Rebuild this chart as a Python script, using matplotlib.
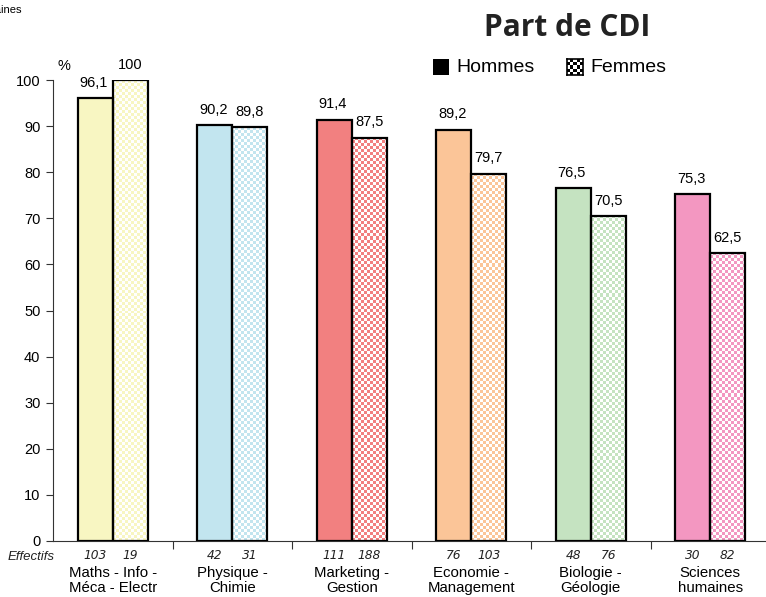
import numpy as np
import matplotlib
matplotlib.use("Agg")
import matplotlib.pyplot as plt
from matplotlib.colors import to_rgba

plt.rcParams["font.family"] = ["Liberation Sans", "DejaVu Sans"]

CATEGORIES = ["Maths - Info -\nMéca - Electr", "Physique -\nChimie", "Marketing -\nGestion",
              "Economie -\nManagement", "Biologie -\nGéologie", "Sciences\nhumaines"]
HOMMES = [96.1, 90.2, 91.4, 89.2, 76.5, 75.3]
FEMMES = [100, 89.8, 87.5, 79.7, 70.5, 62.5]
EFF_HOMMES = [103, 42, 111, 76, 48, 30]
EFF_FEMMES = [19, 31, 188, 103, 76, 82]
COLORS = ["#F8F6C2", "#C2E5EF", "#F28080", "#FBC598", "#C5E3C1", "#F397C1"]
YTICKS = list(range(0, 101, 10))

W, H, DPI = 766, 597, 100
fig = plt.figure(figsize=(W / DPI, H / DPI), dpi=DPI)
ax = fig.add_axes([53 / W, 56 / H, 717 / W, 461 / H])

x = np.arange(len(CATEGORIES))
bw = 0.293


def fmt(v):
    s = f"{v:.1f}".replace(".", ",")
    return s[:-2] if s.endswith(",0") else s


ax.bar(x - bw / 2, HOMMES, bw, color=COLORS, edgecolor="black", linewidth=1.6, zorder=3)
ax.bar(x + bw / 2, FEMMES, bw, color="white", edgecolor="none", zorder=2)
ax.set_xlim(-0.5, 5.5)
ax.set_ylim(0, 100)

# checkerboard fill for the Femmes bars
cell = 3.0
for i, v in enumerate(FEMMES):
    x0, x1 = x[i], x[i] + bw
    p0 = ax.transData.transform((x0, 0))
    p1 = ax.transData.transform((x1, v))
    nx = max(1, int(round((p1[0] - p0[0]) / cell)))
    ny = max(1, int(round((p1[1] - p0[1]) / cell)))
    yy, xx = np.mgrid[0:ny, 0:nx]
    mask = (xx + yy) % 2 == 0
    img = np.ones((ny, nx, 4))
    img[mask] = to_rgba(COLORS[i])
    ax.imshow(img, extent=(x0, x1, 0, v), aspect="auto", interpolation="nearest",
              origin="lower", zorder=2.5)
ax.bar(x + bw / 2, FEMMES, bw, fill=False, edgecolor="black", linewidth=1.6, zorder=3)
ax.set_xlim(-0.5, 5.5)
ax.set_ylim(0, 100)

cnt_font = dict(fontsize=8.8, style="italic", color="#222222",
                family=["DejaVu Sans"])
for i in range(len(CATEGORIES)):
    ax.annotate(fmt(HOMMES[i]), (x[i] - bw / 2, HOMMES[i]), xytext=(-1, 6),
                textcoords="offset points", ha="center", va="bottom", fontsize=10.5,
                annotation_clip=False)
    ax.annotate(fmt(FEMMES[i]), (x[i] + bw / 2, FEMMES[i]), xytext=(0, 6),
                textcoords="offset points", ha="center", va="bottom", fontsize=10.5,
                annotation_clip=False)
    ax.text(x[i] - bw / 2, -3.2, str(EFF_HOMMES[i]), ha="center", va="center", **cnt_font)
    ax.text(x[i] + bw / 2, -3.2, str(EFF_FEMMES[i]), ha="center", va="center", **cnt_font)
    ax.text(x[i], -5.4, CATEGORIES[i], ha="center", va="top", fontsize=10.8,
            linespacing=1.08)

fig.text(8 / W, 1 - 557 / H, "Effectifs", ha="left", va="center", fontsize=9.5,
         style="italic", color="#222222")

ax.spines["top"].set_visible(False)
ax.spines["right"].set_visible(False)
ax.spines["left"].set_color("#333333")
ax.spines["bottom"].set_color("#333333")
ax.set_yticks(YTICKS)
ax.tick_params(axis="y", length=5, labelsize=10.5, pad=4, color="#333333")
ax.set_xticks(x[:-1] + 0.5)
ax.set_xticklabels([])
ax.tick_params(axis="x", length=6, color="#333333")
ax.text(-0.46, 101.5, "%", ha="left", va="bottom", fontsize=10.5)

# title and legend
fig.text(567 / W, 1 - 28 / H, "Part de CDI", ha="center", va="center",
         fontsize=21.5, fontweight="bold", family=["Open Sans", "DejaVu Sans"], color="#222222")
lax1 = fig.add_axes([433 / W, 1 - 75 / H, 16 / W, 16 / H])
lax1.add_patch(plt.Rectangle((0, 0), 1, 1, color="black"))
lax1.set_axis_off()
fig.text(456 / W, 1 - 67 / H, "Hommes", ha="left", va="center", fontsize=14)
lax2 = fig.add_axes([567 / W, 1 - 75 / H, 16 / W, 16 / H])
yy, xx = np.mgrid[0:5, 0:5]
lax2.imshow(((xx + yy) % 2 == 0), cmap="gray", interpolation="nearest")
lax2.set_xticks([])
lax2.set_yticks([])
for s in lax2.spines.values():
    s.set_linewidth(1.2)
fig.text(590 / W, 1 - 67 / H, "Femmes", ha="left", va="center", fontsize=14)

# cropped leftover text in the corner
fig.text(22 / W, 1 - 10 / H, "humaines", ha="right", va="center", fontsize=8)

fig.savefig("out.png", dpi=DPI)
